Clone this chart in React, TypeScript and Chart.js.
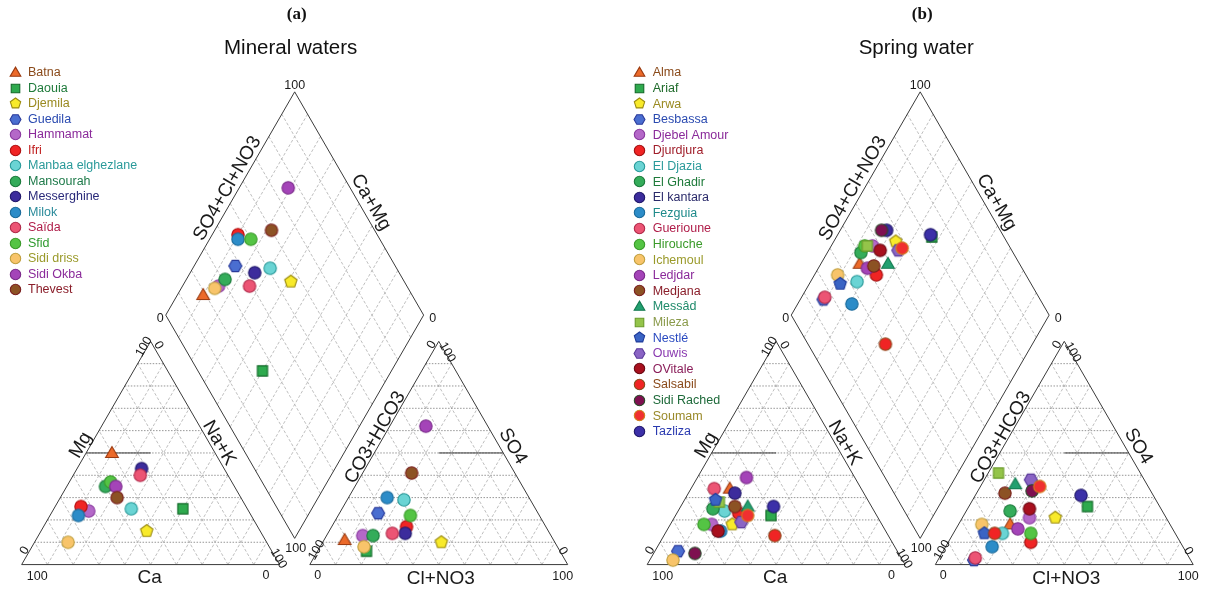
import React, { useEffect, useRef } from "react";
import { Chart, registerables } from "chart.js";
Chart.register(...registerables);

// ---------------- Panel (a): Mineral waters ----------------
const mineralNames = ["Batna", "Daouia", "Djemila", "Guedila", "Hammamat", "Ifri", "Manbaa elghezlane", "Mansourah", "Messerghine", "Milok", "Saïda", "Sfid", "Sidi driss", "Sidi Okba", "Thevest"];
const mineralCa = [40, 25, 44, 48, 62, 64, 45, 50, 32, 67, 34, 47, 77, 46, 48];
const mineralMg = [50, 25, 15, 36, 24, 26, 25, 35, 43, 22, 40, 37, 10, 35, 30];
const mineralNaK = [10, 50, 41, 16, 14, 10, 30, 15, 25, 11, 26, 16, 13, 19, 22];
const mineralHCO3 = [81, 75, 44, 62, 73, 54, 49, 69, 56, 55, 61, 50, 75, 24, 40];
const mineralSO4 = [11, 6, 10, 23, 13, 17, 29, 13, 14, 30, 14, 22, 8, 62, 41];
const mineralCl = [8, 19, 46, 15, 14, 29, 22, 18, 30, 15, 25, 28, 17, 14, 19];

// ---------------- Panel (b): Spring water ----------------
const springNames = ["Alma", "Ariaf", "Arwa", "Besbassa", "Djebel Amour", "Djurdjura", "El Djazia", "El Ghadir", "El kantara", "Fezguia", "Guerioune", "Hirouche", "Ichemoul", "Ledjdar", "Medjana", "Messâd", "Mileza", "Nestlé", "Ouwis", "OVitale", "Salsabil", "Sidi Rached", "Soumam", "Tazliza"];
const springCa = [51, 41, 58, 85, 66, 53, 58, 62, 50, 64, 57, 69, 89, 42, 53, 48, 58, 59, 54, 65, 44, 79, 50, 38];
const springMg = [34, 22, 18, 6, 18, 23, 24, 25, 32, 15, 34, 18, 2, 39, 26, 26, 28, 29, 19, 15, 13, 5, 22, 26];
const springNaK = [15, 37, 24, 9, 16, 24, 18, 13, 18, 21, 9, 13, 9, 19, 21, 26, 14, 12, 27, 20, 43, 16, 28, 36];
const springHCO3 = [62, 28, 43, 84, 53, 58, 67, 59, 44, 74, 83, 56, 73, 60, 57, 51, 55, 74, 44, 51, 70, 46, 42, 28];
const springSO4 = [18, 26, 21, 2, 21, 10, 14, 24, 35, 8, 3, 14, 18, 16, 32, 36, 41, 14, 38, 25, 14, 33, 35, 31];
const springCl = [20, 46, 36, 14, 26, 32, 19, 17, 21, 18, 14, 30, 9, 24, 11, 13, 4, 12, 18, 24, 16, 21, 23, 41];

// ---------------- Styles ----------------
const mineralShapes = ["triangle", "square", "pentagon", "hexagon", "circle", "circle", "circle", "circle", "circle", "circle", "circle", "circle", "circle", "circle", "circle"];
const mineralFills = ["#ec6a2a", "#2eaa4e", "#f8ea2a", "#4a6ed0", "#b468c8", "#f02424", "#6ad4d4", "#34ac5a", "#3c2c9c", "#2c8cc8", "#ec5474", "#54c444", "#f8c46a", "#a444b8", "#8c5224"];
const mineralStrokes = ["#9a3a10", "#146a2a", "#9a8a10", "#2a3a9a", "#8a3aa0", "#b01010", "#2a9a9a", "#1a7a3a", "#20186a", "#1a6a9a", "#b02a4a", "#3a9a2a", "#c0a040", "#7a2a8a", "#7a1e1e"];
const mineralText = ["#8a4a1a", "#1e7a3a", "#9a8a20", "#2a4ab0", "#8a2a9a", "#c01e1e", "#2a9a9a", "#1e7a4a", "#2a2a7a", "#2a8a9a", "#b01e4a", "#2e9a2e", "#9a9a2a", "#8a2a9a", "#8a1e2a"];

const springShapes = ["triangle", "square", "pentagon", "hexagon", "circle", "circle", "circle", "circle", "circle", "circle", "circle", "circle", "circle", "circle", "circle", "triangle", "square", "pentagon", "hexagon", "circle", "circle", "circle", "circle", "circle"];
const springFills = ["#ec6a2a", "#2eaa4e", "#f8ea2a", "#4a6ed0", "#b468c8", "#f02424", "#6ad4d4", "#34ac5a", "#3c2c9c", "#2c8cc8", "#ec5474", "#54c444", "#f8c46a", "#a444b8", "#8c5224", "#22a070", "#94c44a", "#3a64c4", "#8a64c4", "#a8101e", "#f02424", "#7e1050", "#f03030", "#3c30a8"];
const springStrokes = ["#9a3a10", "#146a2a", "#9a8a10", "#2a3a9a", "#8a3aa0", "#a01010", "#2a9a9a", "#1a7a3a", "#20186a", "#1a6a9a", "#b02a4a", "#3a9a2a", "#c0a040", "#7a2a8a", "#7a1e1e", "#147a50", "#6a9a2a", "#1e3a9a", "#5a3a9a", "#6a0a14", "#8a4a1a", "#2a4a2a", "#d0801e", "#20186a"];
const springText = ["#8a4a1a", "#1e6a2a", "#9a8a20", "#2a4ab0", "#8a2a9a", "#a01e2a", "#2a9a9a", "#1e7a3a", "#2a2a6a", "#1e8a8a", "#b01e4a", "#3a9a2a", "#9a9a2a", "#8a2a9a", "#8a1e2a", "#1e8a6a", "#8a9a4a", "#2a4ac0", "#8a3ab0", "#8a1e5a", "#8a4a1a", "#1e6a3a", "#9a8a2a", "#2a3ab0"];

// ---------------- Geometry (layout) ----------------
const SQ3_2 = Math.sqrt(3) / 2;
const H = 100 * SQ3_2;
const GAP = 11.74;
const K = 2.64; // px per unit
const CW = 605;
const CH = 596;
const BASE_Y = 571;
const FONT = '"Liberation Sans", Arial, sans-serif';

function cationXY(ca: number, mg: number, nak: number) {
  const t = ca + mg + nak;
  const m = (mg / t) * 100, n = (nak / t) * 100;
  return { x: n + m / 2, y: m * SQ3_2 };
}
function anionXY(hco3: number, so4: number, cl: number) {
  const t = hco3 + so4 + cl;
  const s = (so4 / t) * 100, c = (cl / t) * 100;
  return { x: 100 + GAP + c + s / 2, y: s * SQ3_2 };
}
function diaXY(sc: number, cm: number) {
  const Bx = 100 + GAP / 2, By = GAP * SQ3_2;
  return { x: Bx + (sc - cm) / 2, y: By + (sc + cm) * SQ3_2 };
}

function traceShape(ctx: CanvasRenderingContext2D, shape: string, cx: number, cy: number, r: number) {
  ctx.beginPath();
  if (shape === "circle") {
    ctx.arc(cx, cy, r, 0, Math.PI * 2);
  } else if (shape === "square") {
    const s = r * 0.82;
    ctx.rect(cx - s, cy - s, 2 * s, 2 * s);
  } else {
    const n = shape === "triangle" ? 3 : shape === "pentagon" ? 5 : 6;
    const start = shape === "hexagon" ? 0 : -Math.PI / 2;
    const rr = shape === "triangle" ? r * 1.18 : r * 1.05;
    const oy = shape === "triangle" ? rr * 0.12 : 0;
    for (let k = 0; k < n; k++) {
      const a = start + (k * 2 * Math.PI) / n;
      const px = cx + rr * Math.cos(a), py = cy + oy + rr * Math.sin(a);
      if (k === 0) ctx.moveTo(px, py); else ctx.lineTo(px, py);
    }
  }
  ctx.closePath();
}

function makeMarker(shape: string, r: number, fill: string, stroke: string) {
  const size = Math.ceil(r * 2.8) + 2;
  const c = document.createElement("canvas");
  c.width = size; c.height = size;
  const ctx = c.getContext("2d")!;
  traceShape(ctx, shape, size / 2, size / 2, r);
  ctx.fillStyle = fill;
  ctx.fill();
  ctx.lineWidth = 1.1;
  ctx.strokeStyle = stroke;
  ctx.stroke();
  return c;
}

type PanelProps = {
  left: number; originX: number; letter: string; title: string;
  names: string[]; ca: number[]; mg: number[]; nak: number[];
  hco3: number[]; so4: number[]; cl: number[];
  shapes: string[]; fills: string[]; strokes: string[]; textColors: string[];
  legendMarkerX: number; legendTextX: number; legendY0: number; legendDY: number;
};

function PiperPanel(p: PanelProps) {
  const ref = useRef<HTMLCanvasElement>(null);
  useEffect(() => {
    const plotMarkers = p.names.map((_, i) => makeMarker(p.shapes[i], 6.2, p.fills[i], p.strokes[i]));
    const legendMarkers = p.names.map((_, i) => makeMarker(p.shapes[i], 5.2, p.fills[i], p.strokes[i]));

    const datasets = p.names.map((name, i) => {
      const c = cationXY(p.ca[i], p.mg[i], p.nak[i]);
      const a = anionXY(p.hco3[i], p.so4[i], p.cl[i]);
      const tc = p.ca[i] + p.mg[i] + p.nak[i];
      const ta = p.hco3[i] + p.so4[i] + p.cl[i];
      const d = diaXY(((p.so4[i] + p.cl[i]) / ta) * 100, ((p.ca[i] + p.mg[i]) / tc) * 100);
      return {
        label: name,
        data: [c, a, d],
        pointStyle: plotMarkers[i],
        pointRadius: 6,
        showLine: false,
        order: -i,
      };
    });

    const frame = {
      id: "piperFrame",
      beforeDatasetsDraw(chart: any) {
        const ctx: CanvasRenderingContext2D = chart.ctx;
        const xs = chart.scales.x, ys = chart.scales.y;
        const P = (x: number, y: number): [number, number] => [xs.getPixelForValue(x), ys.getPixelForValue(y)];
        const line = (a: [number, number], b: [number, number]) => {
          ctx.beginPath(); ctx.moveTo(a[0], a[1]); ctx.lineTo(b[0], b[1]); ctx.stroke();
        };
        ctx.save();
        const ax = 100 + GAP;
        // grids
        for (let t = 10; t < 100; t += 10) {
          const hy = t * SQ3_2;
          // horizontal lines
          ctx.strokeStyle = "#8a8a8a"; ctx.lineWidth = 0.9; ctx.setLineDash([1.5, 1.5]);
          line(P(t / 2, hy), P(100 - t / 2, hy));
          line(P(ax + t / 2, hy), P(ax + 100 - t / 2, hy));
          // diagonals
          ctx.strokeStyle = "#b8b8b8"; ctx.lineWidth = 0.9; ctx.setLineDash([3, 2]);
          const u = 100 - t;
          line(P(t, 0), P(t + u / 2, u * SQ3_2));
          line(P(u, 0), P(u / 2, u * SQ3_2));
          line(P(ax + t, 0), P(ax + t + u / 2, u * SQ3_2));
          line(P(ax + u, 0), P(ax + u / 2, u * SQ3_2));
          // diamond
          let q1 = diaXY(t, 0), q2 = diaXY(t, 100);
          line(P(q1.x, q1.y), P(q2.x, q2.y));
          q1 = diaXY(0, t); q2 = diaXY(100, t);
          line(P(q1.x, q1.y), P(q2.x, q2.y));
        }
        ctx.setLineDash([]);
        ctx.strokeStyle = "#3a3a3a"; ctx.lineWidth = 1;
        // classification lines
        line(P(25, 50 * SQ3_2), P(50, 50 * SQ3_2));
        line(P(ax + 50, 50 * SQ3_2), P(ax + 75, 50 * SQ3_2));
        // frames
        const poly = (pts: [number, number][]) => {
          ctx.beginPath(); ctx.moveTo(pts[0][0], pts[0][1]);
          for (let k = 1; k < pts.length; k++) ctx.lineTo(pts[k][0], pts[k][1]);
          ctx.closePath(); ctx.stroke();
        };
        const cL = P(0, 0), cR = P(100, 0), cT = P(50, H);
        const aL = P(ax, 0), aR = P(ax + 100, 0), aT = P(ax + 50, H);
        const b0 = diaXY(0, 0), l0 = diaXY(0, 100), r0 = diaXY(100, 0), t0 = diaXY(100, 100);
        const dB = P(b0.x, b0.y), dL = P(l0.x, l0.y), dR = P(r0.x, r0.y), dT = P(t0.x, t0.y);
        poly([cL, cR, cT]);
        poly([aL, aR, aT]);
        poly([dB, dR, dT, dL]);

        // labels
        const mid = (a: [number, number], b: [number, number]): [number, number] => [(a[0] + b[0]) / 2, (a[1] + b[1]) / 2];
        const text = (s: string, at: [number, number], dx: number, dy: number, rot: number, size: number, weight = "normal", family = FONT) => {
          ctx.save();
          ctx.translate(at[0] + dx, at[1] + dy);
          ctx.rotate((rot * Math.PI) / 180);
          ctx.font = `${weight} ${size}px ${family}`;
          ctx.textAlign = "center"; ctx.textBaseline = "middle";
          ctx.fillText(s, 0, 0);
          ctx.restore();
        };
        ctx.fillStyle = "#1a1a1a";
        const BIG = 19, SM = 12.5;
        text("Ca", mid(cL, cR), -1, 13.5, 0, BIG);
        text("Mg", mid(cL, cT), -5.3, -7.7, -60, BIG);
        text("Na+K", mid(cR, cT), 4, -10, 60, BIG);
        text("Cl+NO3", mid(aL, aR), 2, 14.5, 0, BIG);
        text("SO4", mid(aR, aT), 9.5, -6.7, 60, BIG);
        text("CO3+HCO3", mid(aL, aT), 1, -15.5, -60, BIG);
        text("SO4+Cl+NO3", mid(dL, dT), -2.8, -15.1, -60, BIG);
        text("Ca+Mg", mid(dR, dT), 11.8, -1.1, 60, BIG);

        text("100", cL, 15.5, 11.5, 0, SM);
        text("0", cL, 3, -14, -60, SM);
        text("0", cR, -13.5, 11, 0, SM);
        text("100", cR, -1, -6, 60, SM);
        text("100", cT, -6.5, 5.5, -60, SM);
        text("0", cT, 8, 4, 60, SM);
        text("0", aL, 8, 11, 0, SM);
        text("100", aL, 7, -14.5, -60, SM);
        text("100", aR, -5, 11.5, 0, SM);
        text("0", aR, -5, -13.5, 60, SM);
        text("0", aT, -7, 3.5, -60, SM);
        text("100", aT, 8.5, 11, 60, SM);
        text("100", dT, 0, -6, 0, SM);
        text("0", dL, -5.5, 3.5, 0, SM);
        text("0", dR, 9, 3.5, 0, SM);
        text("100", dB, 1, 10, 0, SM);

        // titles
        ctx.fillStyle = "#111";
        text(p.letter, [dT[0], 0], 2, 15, 0, 17, "bold", '"Liberation Serif", "Times New Roman", serif');
        text(p.title, [dT[0], 0], -4, 48, 0, 20.5);
        ctx.restore();
      },
      afterDatasetsDraw(chart: any) {
        const ctx: CanvasRenderingContext2D = chart.ctx;
        ctx.save();
        ctx.font = `12.5px ${FONT}`;
        ctx.textAlign = "left"; ctx.textBaseline = "middle";
        p.names.forEach((name, i) => {
          const y = p.legendY0 + i * p.legendDY;
          const m = legendMarkers[i];
          ctx.drawImage(m, Math.round(p.legendMarkerX - m.width / 2), Math.round(y - m.height / 2));
          ctx.fillStyle = p.textColors[i];
          ctx.fillText(name, p.legendTextX, y + 0.5);
        });
        ctx.restore();
      },
    };

    const chart = new Chart(ref.current!, {
      type: "scatter",
      data: { datasets: datasets as any },
      options: {
        responsive: false,
        animation: false,
        devicePixelRatio: 1,
        events: [],
        layout: { padding: 0 },
        plugins: { legend: { display: false }, tooltip: { enabled: false }, title: { display: false } },
        scales: {
          x: { type: "linear", display: false, min: -p.originX / K, max: (CW - p.originX) / K },
          y: { type: "linear", display: false, min: -(CH - BASE_Y) / K, max: BASE_Y / K },
        },
      },
      plugins: [frame],
    });
    return () => chart.destroy();
  }, []);
  return (
    <div style={{ position: "absolute", left: p.left, top: 0, width: CW, height: CH }}>
      <canvas ref={ref} width={CW} height={CH} style={{ width: CW, height: CH, display: "block" }} />
    </div>
  );
}

export default function App() {
  return (
    <div style={{ position: "fixed", left: 0, top: 0, width: 1210, height: 596, background: "#fff" }}>
      <PiperPanel
        left={0} originX={15} letter="(a)" title="Mineral waters"
        names={mineralNames} ca={mineralCa} mg={mineralMg} nak={mineralNaK}
        hco3={mineralHCO3} so4={mineralSO4} cl={mineralCl}
        shapes={mineralShapes} fills={mineralFills} strokes={mineralStrokes} textColors={mineralText}
        legendMarkerX={15} legendTextX={28} legendY0={72.5} legendDY={15.5}
      />
      <PiperPanel
        left={605} originX={36} letter="(b)" title="Spring water"
        names={springNames} ca={springCa} mg={springMg} nak={springNaK}
        hco3={springHCO3} so4={springSO4} cl={springCl}
        shapes={springShapes} fills={springFills} strokes={springStrokes} textColors={springText}
        legendMarkerX={34.5} legendTextX={47.7} legendY0={72.5} legendDY={15.6}
      />
    </div>
  );
}
